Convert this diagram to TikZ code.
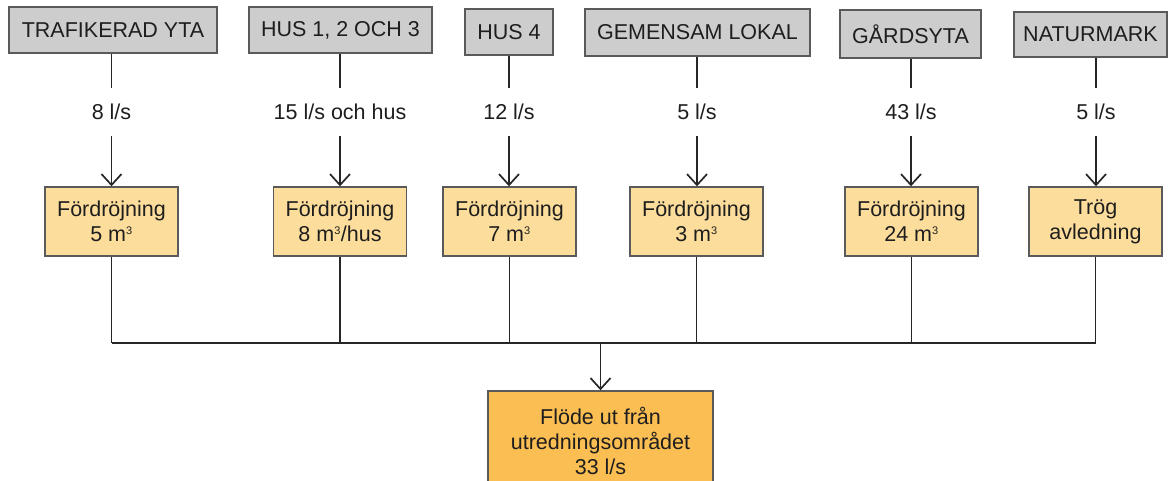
\documentclass[tikz,border=0pt]{standalone}
\usepackage{fontspec}
\setmainfont{Liberation Sans}
\usetikzlibrary{arrows.meta}
\definecolor{boxgrey}{RGB}{205,205,205}
\definecolor{lineg}{RGB}{90,90,90}
\definecolor{lorange}{RGB}{253,221,155}
\definecolor{dorange}{RGB}{251,190,82}
\definecolor{txt}{RGB}{30,30,30}
\begin{document}
\begin{tikzpicture}[x=1pt,y=-1pt,
  every node/.style={font=\fontsize{21.5}{25}\selectfont, text=txt},
  srcbox/.style={draw=lineg, line width=1.4pt, fill=boxgrey, inner sep=0pt, minimum height=46pt},
  ratebox/.style={inner sep=0pt, minimum height=47pt, minimum width=10pt},
  delaybox/.style={draw=lineg, line width=1.4pt, fill=lorange, inner sep=0pt, minimum width=133pt, minimum height=69pt, align=center},
  outbox/.style={draw=lineg, line width=1.4pt, fill=dorange, inner sep=0pt, minimum width=225pt, minimum height=100pt, align=center},
  conn/.style={draw=black!85, line width=1.7pt},
  arr/.style={conn, -{Straight Barb[length=11pt,width=20pt,line width=1.7pt]}}
]
\useasboundingbox (0,0) rectangle (1169,481);
% source boxes
\node[srcbox, minimum width=208pt] (t1) at (113,30) {TRAFIKERAD YTA};
\node[srcbox, minimum width=183pt] (t2) at (340.5,30) {HUS 1, 2 OCH 3};
\node[srcbox, minimum width=88pt] (t3) at (509,32) {HUS 4};
\node[srcbox, minimum width=225pt, minimum height=47pt] (t4) at (697.5,32.5) {GEMENSAM LOKAL};
\node[srcbox, minimum width=141pt, minimum height=48pt] (t5) at (910.5,34) {GÅRDSYTA};
\node[srcbox, minimum width=153pt, minimum height=45pt] (t6) at (1090.5,34.5) {NATURMARK};
% rate labels
\node[ratebox] (l1) at (111.5,112) {8 l/s};
\node[ratebox] (l2) at (340,112) {15 l/s och hus};
\node[ratebox] (l3) at (509,112) {12 l/s};
\node[ratebox] (l4) at (697,112) {5 l/s};
\node[ratebox] (l5) at (911,112) {43 l/s};
\node[ratebox] (l6) at (1096,112) {5 l/s};
% delay boxes
\node[delaybox] (o1) at (111.5,221.5) {Fördröjning\\5 m\textsuperscript{\fontsize{11}{11}\selectfont 3}};
\node[delaybox] (o2) at (340,221.5) {Fördröjning\\8 m\textsuperscript{\fontsize{11}{11}\selectfont 3}/hus};
\node[delaybox] (o3) at (509.5,221.5) {Fördröjning\\7 m\textsuperscript{\fontsize{11}{11}\selectfont 3}};
\node[delaybox] (o4) at (696.5,221.5) {Fördröjning\\3 m\textsuperscript{\fontsize{11}{11}\selectfont 3}};
\node[delaybox] (o5) at (911.5,221.5) {Fördröjning\\24 m\textsuperscript{\fontsize{11}{11}\selectfont 3}};
\node[delaybox] (o6) at (1095.5,221.5) {Trög\\avledning};
% outflow box
\node[outbox] (out) at (600.5,441) {Flöde ut från\\utredningsområdet\\33 l/s};
\coordinate (bus) at (600.5,343);
% connectors
\foreach \i in {1,...,6}{
  \draw[conn] (l\i.north |- t\i.south) -- (l\i.north);
  \draw[arr] (l\i.south) -- (l\i.south |- o\i.north);
  \draw[conn] (o\i.south) -- (o\i.south |- bus);
}
\draw[conn] (o1.south |- bus) -- (o6.south |- bus);
\draw[arr] (bus) -- (out.north);
\end{tikzpicture}
\end{document}
